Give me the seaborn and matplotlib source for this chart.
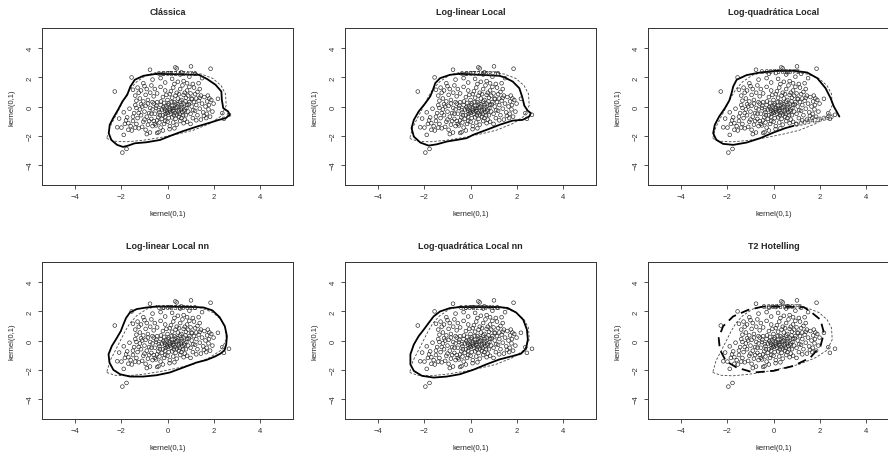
import matplotlib
matplotlib.use("Agg")
import matplotlib.pyplot as plt
import seaborn as sns
import pandas as pd

# amostra (mesmos pontos em todos os painéis)
kernel_x = [
    # pontos afastados
    -2.29, -1.56, -0.76, 0.34, 0.40, 1.02, 1.87, -1.96, -1.78, -1.90, -2.18, -2.10, 2.19, 2.67, 2.38, 2.45, -0.39, -0.45, -0.76, 0.09,
    # topo
    -0.65, -0.30, 0.10, 0.55, 0.70, 0.95, 1.20, 1.35, 0.20, -0.10, 0.45, 0.85, 1.10, -1.05, -0.20, 0.60, 1.50, 0.30,
    # superior esquerdo
    -1.30, -1.15, -1.40, -1.00, -0.90, -0.70, -1.20, -0.95, -0.75, -0.60, -1.05, -1.50, -0.85, -0.55, -1.25, -0.65, -1.35, -0.45,
    # superior central
    -0.30, -0.10, 0.10, 0.25, 0.40, 0.55, 0.70, 0.85, 1.00, 1.15, 1.30, 1.45, 0.20, 0.45, 0.60, 0.80, 1.05, 1.25, -0.20, 0.00,
    0.35, 0.65, 0.95, 1.20, 0.15, 0.50, 0.75, 1.40, -0.05, 0.90,
    # núcleo
    -0.60, -0.50, -0.45, -0.35, -0.30, -0.25, -0.20, -0.15, -0.10, -0.05, 0.00, 0.05, 0.10, 0.15, 0.20, 0.25, 0.30, 0.35, 0.40, 0.45,
    0.50, 0.55, 0.60, 0.65, 0.70, 0.75, 0.80, 0.85, 0.90, 0.95,
    -0.55, -0.40, -0.25, -0.10, 0.05, 0.20, 0.35, 0.50, 0.60, 0.75,
    -0.65, -0.48, -0.38, -0.28, -0.18, -0.08, 0.02, 0.12, 0.22, 0.32, 0.42, 0.52, 0.62, 0.72, 0.82, 0.92,
    -0.33, -0.13, 0.08, 0.18, 0.28, 0.38, 0.48, 0.58, 0.68, 0.78, -0.02, 0.27,
    # esquerda
    -2.00, -1.85, -1.70, -1.75, -1.60, -1.50, -1.45, -1.35, -1.30, -1.20, -1.15, -1.05, -1.00, -0.95, -0.90, -0.85, -0.80, -0.75, -0.70, -0.65,
    -1.55, -1.40, -1.25, -1.10, -0.95, -1.80, -1.90, -1.65, -1.40, -1.15, -0.85, -0.70, -0.60, -1.00, -1.25, -1.50, -1.70, -0.80, -1.10, -0.55,
    -1.35, -0.90,
    # inferior
    -0.50, -0.35, -0.30, -0.15, 0.00, 0.10, 0.25, 0.40, 0.55, -0.20, 0.30, 0.70, -0.45, 0.85, 1.00, -0.10,
    # direita
    1.00, 1.05, 1.10, 1.15, 1.20, 1.25, 1.30, 1.35, 1.40, 1.45, 1.50, 1.55, 1.60, 1.65, 1.70, 1.72, 1.75, 1.78, 1.80, 1.85,
    1.90, 1.95, 1.68, 1.25, 1.05, 1.40, 1.58, 1.12, 2.00, 1.82,
]
kernel_y = [
    1.03, 2.00, 2.53, 2.69, 2.62, 2.76, 2.60, -3.17, -2.92, -1.95, -1.43, -0.83, 0.53, -0.57, -0.46, -0.85, -1.77, -1.82, -1.79, -1.56,
    1.85, 1.95, 2.30, 2.20, 1.75, 2.05, 2.25, 1.60, 1.90, 1.65, 1.70, 1.60, 1.55, 1.60, 2.25, 2.35, 1.95, 1.55,
    1.30, 1.10, 0.75, 1.40, 1.20, 1.45, 0.55, 0.80, 0.95, 0.70, 0.35, 1.15, 0.45, 1.20, 0.95, 0.30, 0.40, 0.90,
    1.35, 1.10, 0.85, 1.30, 0.95, 1.20, 0.80, 1.10, 0.90, 1.30, 1.00, 0.75, 0.60, 0.55, 0.45, 0.60, 0.50, 0.55, 0.65, 0.45,
    0.75, 1.45, 1.35, 0.85, 1.05, 0.85, 0.95, 1.20, 0.80, 0.75,
    0.20, -0.10, 0.30, -0.40, 0.10, -0.20, -0.60, 0.25, -0.30, 0.00, -0.45, 0.20, -0.15, -0.50, 0.05, -0.30, 0.30, -0.10, -0.55, 0.15,
    -0.25, 0.35, -0.05, -0.40, 0.20, -0.20, -0.60, 0.10, -0.35, 0.30,
    -0.50, -0.75, -0.85, -0.70, -0.80, -0.75, -0.85, -0.70, -0.80, -0.90,
    -0.20, 0.05, -0.25, 0.35, -0.05, -0.50, 0.10, -0.35, -0.10, -0.45, 0.00, -0.50, 0.10, -0.30, -0.10, 0.15,
    -0.60, -0.15, -0.25, 0.30, -0.20, 0.20, -0.35, -0.20, -0.60, 0.35, -0.35, -0.60,
    -1.45, -1.20, -1.60, -0.75, -1.35, -1.00, -0.45, -1.20, -0.80, -0.20, -0.60, -1.05, -0.35, 0.05, -0.70, -1.25, -0.45, -0.10, -0.85, -1.35,
    -1.65, -1.45, -1.50, -1.40, -1.60, -0.95, -0.40, -0.15, 0.10, 0.15, 0.20, -0.50, -1.00, -0.90, -0.45, -0.70, -1.15, -1.00, 0.00, -1.20,
    -0.10, -1.90,
    -1.30, -1.10, -1.45, -1.20, -1.05, -1.35, -1.10, -1.25, -1.00, -1.65, -1.50, -1.15, -0.95, -1.05, -1.20, -1.00,
    -0.50, 0.00, -0.80, 0.30, -0.30, 0.10, -0.60, 0.40, -0.15, -0.90, 0.20, -0.40, 0.65, 0.00, -0.50, 0.35, 0.75, -0.20, 0.10, -0.70,
    0.45, -0.35, -0.80, -0.95, 0.55, 0.60, -0.65, -0.25, 0.20, 0.55,
]

# contorno de referência (tracejado fino, igual em todos os painéis)
ref_x = [-2.64, -2.28, -1.77, -1.05, -0.33, 0.39, 1.11, 1.83, 2.33, 2.55, 2.52, 2.33, 1.97, 1.47, 0.82, 0.10, -0.48,
         -0.91, -1.34, -1.63, -1.84, -2.06, -2.28, -2.50, -2.64]
ref_y = [-2.20, -2.39, -2.43, -2.32, -2.14, -1.91, -1.64, -1.18, -0.66, 0.07, 0.86, 1.43, 1.93, 2.23, 2.39, 2.41, 2.34,
         2.16, 1.70, 1.20, 0.64, -0.05, -0.73, -1.41, -2.20]

# contornos estimados (linha cheia)
classica_x = [-0.47, -1.05, -1.42, -1.61, -1.75, -1.96, -2.15, -2.34, -2.51, -2.55, -2.44, -2.19, -1.93, -1.71, -1.42, -0.91,
              -0.32, 0.12, 0.63, 1.28, 1.87, 2.23, 2.53, 2.70, 2.63, 2.42, 2.36, 2.34, 2.09, 1.72, 1.36, -0.47]
classica_y = [2.25, 2.11, 1.84, 1.38, 0.80, 0.34, -0.23, -0.74, -1.26, -1.84, -2.30, -2.64, -2.78, -2.69, -2.53, -2.46,
              -2.30, -2.02, -1.72, -1.38, -1.10, -0.92, -0.80, -0.57, -0.34, -0.11, 0.46, 1.03, 1.49, 1.89, 2.18, 2.25]

loglin_x = [-0.46, -0.89, -1.32, -1.53, -1.63, -1.75, -1.96, -2.25, -2.46, -2.56, -2.46, -2.18, -1.82, -1.46, -1.03, -0.60,
            -0.17, 0.11, 0.69, 1.26, 1.83, 2.26, 2.55, 2.62, 2.48, 2.34, 2.24, 2.12, 1.83, 1.48, 1.26, -0.46]
loglin_y = [2.25, 2.18, 1.95, 1.61, 1.15, 0.69, 0.23, -0.34, -0.92, -1.49, -2.07, -2.48, -2.69, -2.60, -2.41, -2.30,
            -2.18, -1.95, -1.61, -1.26, -0.97, -0.92, -0.69, -0.46, -0.28, 0.05, 0.69, 1.26, 1.72, 2.00, 2.11, 2.25]

# log-quadrática: contorno interrompido pelo rótulo inferior
logquad_x = [0.87, 0.51, 0.00, -0.58, -1.17, -1.75, -2.19, -2.48, -2.62, -2.55, -2.36, -2.11, -1.92, -1.82, -1.75, -1.60,
             -1.17, -0.58, 0.15, 0.87, 1.46, 1.90, 2.26, 2.48, 2.62, 2.74, 2.86]
logquad_y = [-1.33, -1.49, -1.79, -2.18, -2.48, -2.64, -2.57, -2.30, -1.84, -1.26, -0.69, -0.11, 0.41, 0.92, 1.38, 1.84,
             2.16, 2.34, 2.46, 2.46, 2.34, 1.95, 1.26, 0.57, 0.00, -0.34, -0.69]

loglin_nn_x = [-0.48, -0.91, -1.34, -1.63, -1.80, -1.92, -2.03, -2.20, -2.42, -2.56, -2.52, -2.35, -2.06, -1.63, -1.05, -0.48,
               0.10, 0.68, 1.25, 1.69, 2.05, 2.31, 2.48, 2.55, 2.58, 2.49, 2.26, 1.95, 1.57, 1.25, -0.48]
loglin_nn_y = [2.34, 2.27, 2.16, 1.93, 1.55, 1.09, 0.64, 0.18, -0.39, -0.95, -1.52, -2.02, -2.32, -2.48, -2.48, -2.39,
               -2.20, -1.86, -1.52, -1.34, -1.11, -0.89, -0.66, -0.27, 0.30, 0.98, 1.61, 2.07, 2.27, 2.30, 2.34]

logquad_nn_x = [-0.46, -0.89, -1.32, -1.60, -1.82, -2.03, -2.25, -2.46, -2.61, -2.61, -2.46, -2.11, -1.60, -1.03, -0.46,
                0.11, 0.69, 1.26, 1.83, 2.19, 2.41, 2.49, 2.45, 2.29, 1.98, 1.62, 1.26, -0.46]
logquad_nn_y = [2.30, 2.23, 2.00, 1.66, 1.20, 0.75, 0.30, -0.27, -0.95, -1.64, -2.09, -2.43, -2.55, -2.48, -2.32,
                -2.02, -1.64, -1.30, -1.07, -0.91, -0.57, 0.07, 0.75, 1.43, 1.93, 2.23, 2.30, 2.30]

# elipse T2 de Hotelling (tracejado grosso)
t2_x = [-0.44, -1.09, -1.75, -2.19, -2.38, -2.33, -2.07, -1.60, -0.87, 0.00, 0.87, 1.60, 2.04, 2.19, 2.04, 1.60, 1.31, -0.44]
t2_y = [2.34, 2.11, 1.66, 0.98, 0.18, -0.61, -1.41, -1.86, -2.20, -2.09, -1.75, -1.18, -0.39, 0.52, 1.43, 2.00, 2.30, 2.34]

titulos = ["Clássica", "Log-linear Local", "Log-quadrática Local",
           "Log-linear Local nn", "Log-quadrática Local nn", "T2 Hotelling"]
rotulos = ["0.008343476", "0.007365875", "0.007365875", "0.008360018", "0.008236418", "0.007365875"]
rotulo_pos = [(0.42, 2.25), (0.40, 2.25), (0.30, 2.42), (0.40, 2.30), (0.40, 2.30), (0.37, 2.36)]

sns.set_style("white")
plt.rcParams["font.family"] = ["Liberation Sans", "DejaVu Sans"]

fig = plt.figure(figsize=(8.88, 4.56), dpi=100)
W, H = 888, 456
lefts = [42, 345, 648]
tops = [29, 263]
aw, ah = 251, 157

contornos = [(classica_x, classica_y), (loglin_x, loglin_y), (logquad_x, logquad_y),
             (loglin_nn_x, loglin_nn_y), (logquad_nn_x, logquad_nn_y), None]

for i, titulo in enumerate(titulos):
    r, c = divmod(i, 3)
    ax = fig.add_axes([lefts[c] / W, 1 - (tops[r] + ah) / H, aw / W, ah / H])

    sns.lineplot(x=ref_x, y=ref_y, ax=ax, sort=False, estimator=None, color="#444444",
                 lw=0.6, linestyle=(0, (3, 2)))
    if contornos[i] is not None:
        cx, cy = contornos[i]
        sns.lineplot(x=cx, y=cy, ax=ax, sort=False, estimator=None, color="black", lw=1.3,
                     solid_joinstyle="round")
    else:
        sns.lineplot(x=t2_x, y=t2_y, ax=ax, sort=False, estimator=None, color="black", lw=1.3,
                     linestyle=(0, (5, 3)))

    sns.scatterplot(x=kernel_x, y=kernel_y, ax=ax, marker="o", s=7, facecolor="none",
                    edgecolor="#222222", linewidth=0.45, zorder=3)

    lx, ly = rotulo_pos[i]
    ax.text(lx, ly, rotulos[i], fontsize=5, ha="center", va="center", zorder=4)
    if i == 2:
        ax.text(1.8, -0.95, "0.009428085", fontsize=5, ha="center", va="center", rotation=12, zorder=4)

    ax.set_xlim(-5.45, 5.45)
    ax.set_ylim(-5.4, 5.4)
    ax.set_xticks([-4, -2, 0, 2, 4])
    ax.set_yticks([-4, -2, 0, 2, 4])
    ax.tick_params(direction="out", length=3, width=0.6, labelsize=5.5, pad=3,
                   bottom=True, left=True, top=False, right=False, colors="#333333")
    for lab in ax.get_yticklabels():
        lab.set_rotation(90)
        lab.set_va("center")
    for sp in ax.spines.values():
        sp.set_linewidth(0.7)
        sp.set_color("#333333")
    ax.set_xlabel("kernel(0,1)", fontsize=5.5, labelpad=7)
    ax.set_ylabel("kernel(0,1)", fontsize=5.5, labelpad=8)
    ax.set_title(titulo, fontsize=6.5, fontweight="bold", pad=10)

fig.savefig("out.png", dpi=100)
